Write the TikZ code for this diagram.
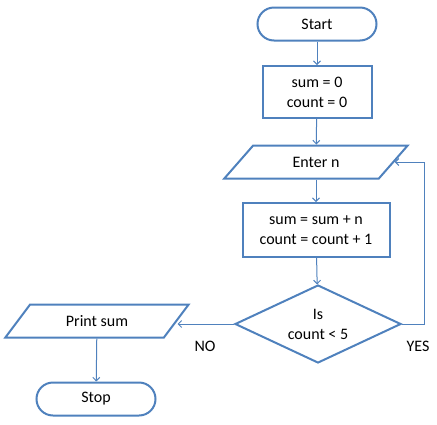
\documentclass[tikz,border=0pt]{standalone}
\usepackage{fontspec}
\setmainfont{Carlito}
\usetikzlibrary{shapes.geometric,shapes.misc,arrows.meta}
\definecolor{flowblue}{HTML}{4F81BD}
\begin{document}
\begin{tikzpicture}[x=1pt, y=-1pt,
    every node/.style={font=\fontsize{16}{20}\selectfont, align=center, inner sep=0pt},
    terminal/.style={draw=flowblue, line width=2pt, rounded rectangle, minimum width=119pt, minimum height=33pt},
    process/.style={draw=flowblue, line width=2pt, rectangle},
    io/.style={draw=flowblue, line width=2pt, trapezium, trapezium left angle=44, trapezium right angle=136,
        trapezium stretches=true, minimum width=184pt, minimum height=33pt},
    decision/.style={draw=flowblue, line width=2pt, diamond, aspect=2.13, minimum width=166pt, minimum height=78pt},
    flow/.style={draw=flowblue, line width=1pt, -{Straight Barb[length=3.5pt,width=7pt]}}]
        \useasboundingbox (0,0) rectangle (437,424);

        \node[terminal] (start) at (317,24) {Start};
        \node[process, minimum width=109pt, minimum height=52pt] (init) at (317,92) {sum = 0\\count = 0};
        \node[io] (enter) at (316,162) {Enter n};
        \node[process, minimum width=147pt, minimum height=54pt] (calc) at (316,230) {sum = sum + n\\count = count + 1};
        \node[decision] (test) at (318,324) {Is\\count < 5};
        \node[io] (print) at (97,321) {Print sum};
        \node[terminal] (stop) at (96,399) {Stop};
        \coordinate (back) at (424,162);

        \draw[flow] (start) -- (init);
        \draw[flow] (init) -- (enter);
        \draw[flow] (enter) -- (calc);
        \draw[flow] (calc) -- (test);
        \draw[flow] (test.west) -- (test.west -| print.right side);
        \draw[flow] (test.east) -| (back) -- (enter.right side);
        \draw[flow] (print) -- (stop);

        \node (no) at (205,346) {NO};
        \node (yes) at (418,346) {YES};
    \end{tikzpicture}
\end{document}
